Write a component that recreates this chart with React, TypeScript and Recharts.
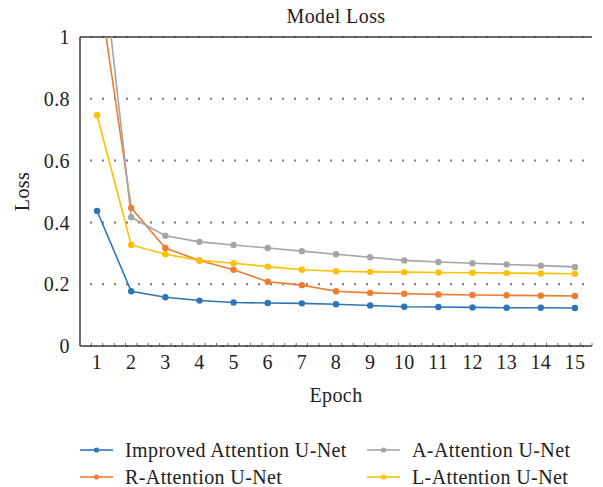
import React from 'react';
import { LineChart, Line, XAxis, YAxis, CartesianGrid, Legend, ReferenceLine } from 'recharts';

const FONT = '"Liberation Serif", "Times New Roman", serif';
const FS = 20;
const LS = 0.4;

// ---- data ----
const epochs = [1, 2, 3, 4, 5, 6, 7, 8, 9, 10, 11, 12, 13, 14, 15];
const epochLabels = ['1', '2', '3', '4', '5', '6', '7', '8', '9', '10', '11', '12', '13', '14', '15'];
const improvedAttention = [0.437, 0.177, 0.158, 0.147, 0.141, 0.139, 0.138, 0.135, 0.131, 0.127, 0.126, 0.125, 0.124, 0.124, 0.123];
const rAttention = [1.2, 0.447, 0.317, 0.277, 0.247, 0.208, 0.197, 0.177, 0.172, 0.169, 0.167, 0.165, 0.164, 0.163, 0.162];
const aAttention = [1.41, 0.417, 0.357, 0.337, 0.327, 0.317, 0.307, 0.297, 0.287, 0.277, 0.272, 0.268, 0.264, 0.26, 0.256];
const lAttention = [0.747, 0.327, 0.297, 0.277, 0.268, 0.257, 0.247, 0.242, 0.24, 0.239, 0.238, 0.237, 0.236, 0.235, 0.234];
const yTicks = [0, 0.2, 0.4, 0.6, 0.8, 1];
const yTickLabels = ['0', '0.2', '0.4', '0.6', '0.8', '1'];
const title = 'Model Loss';
const xTitle = 'Epoch';
const yTitle = 'Loss';

const series = [
  { key: 'improved', name: 'Improved Attention U-Net', color: '#2E75B6', values: improvedAttention },
  { key: 'r', name: 'R-Attention U-Net', color: '#ED7D31', values: rAttention },
  { key: 'a', name: 'A-Attention U-Net', color: '#A5A5A5', values: aAttention },
  { key: 'l', name: 'L-Attention U-Net', color: '#FFC000', values: lAttention },
];
const legendOrder = ['improved', 'a', 'r', 'l'];

// minor tick positions (decoration only)
const minorTicks: number[] = [];
for (let k = 0; k <= 45; k++) minorTicks.push(0.5 + k / 3);
const allBottomTicks = [...epochs, ...minorTicks.filter((t) => Math.abs(t - Math.round(t)) > 1e-6)].sort((a, b) => a - b);

const data = epochs.map((e, i) => {
  const row: Record<string, number> = { epoch: e };
  series.forEach((s) => {
    row[s.key] = s.values[i];
  });
  return row;
});

const AXIS = '#3a3a3a';
const TEXT = '#222';

const BottomTick = (props: any) => {
  const { x, y, payload } = props;
  const v = payload.value as number;
  const idx = epochs.indexOf(v);
  if (idx >= 0) {
    return (
      <text x={x} y={y} dy="0.71em" textAnchor="middle" fill={TEXT} fontSize={FS} fontFamily={FONT} letterSpacing={LS}>
        {epochLabels[idx]}
      </text>
    );
  }
  return <line x1={x} x2={x} y1={y - 9} y2={y - 12} stroke="#666" strokeWidth={1} />;
};

const TopTick = (props: any) => {
  const { x, y } = props;
  return <line x1={x} x2={x} y1={y} y2={y + 3} stroke="#666" strokeWidth={1} />;
};

const LegendContent = () => {
  const cols = [80, 367];
  const rows = [44, 71];
  return (
    <svg width={603} height={81} style={{ display: 'block' }}>
      {legendOrder.map((k, i) => {
        const s = series.find((ss) => ss.key === k)!;
        const cx = cols[i % 2];
        const cy = rows[Math.floor(i / 2)];
        return (
          <g key={k}>
            <line x1={cx} x2={cx + 33} y1={cy} y2={cy} stroke={s.color} strokeWidth={2} opacity={0.8} />
            <circle cx={cx + 16.5} cy={cy} r={2.6} fill={s.color} />
            <text x={cx + 45} y={cy} dy="0.35em" fill={TEXT} fontSize={FS} fontFamily={FONT} letterSpacing={LS}>
              {s.name}
            </text>
          </g>
        );
      })}
    </svg>
  );
};

export default function App() {
  return (
    <div style={{ position: 'absolute', left: 0, top: 0, width: 603, height: 487, background: '#fff' }}>
      <LineChart width={603} height={487} data={data} margin={{ top: 37, right: 11, left: 0, bottom: 0 }}>
        <CartesianGrid vertical={false} stroke="#777" strokeWidth={2} strokeDasharray="2 10" strokeDashoffset={2} />
        <XAxis
          xAxisId="top"
          orientation="top"
          type="number"
          domain={[0.5, 15.5]}
          ticks={minorTicks}
          allowDataOverflow
          height={0}
          tickSize={0}
          tickMargin={0}
          tick={<TopTick />}
          tickLine={false}
          axisLine={{ stroke: AXIS, strokeWidth: 1.5 }}
        />
        <XAxis
          dataKey="epoch"
          type="number"
          domain={[0.5, 15.5]}
          ticks={allBottomTicks}
          interval={0}
          allowDataOverflow
          height={60}
          tickSize={0}
          tickMargin={9}
          tickLine={false}
          tick={<BottomTick />}
          axisLine={{ stroke: AXIS, strokeWidth: 1.5 }}
          label={{ value: xTitle, position: 'insideBottom', offset: 4, fill: TEXT, fontSize: FS, fontFamily: FONT, letterSpacing: LS }}
        />
        <YAxis
          type="number"
          domain={[0, 1]}
          ticks={yTicks}
          interval={0}
          allowDataOverflow
          width={80}
          tickSize={0}
          tickMargin={10}
          tickLine={false}
          tickFormatter={(v: number) => yTickLabels[yTicks.indexOf(v)] ?? String(v)}
          tick={{ fill: TEXT, fontSize: FS, fontFamily: FONT, letterSpacing: LS }}
          axisLine={{ stroke: AXIS, strokeWidth: 1.5 }}
          label={{ value: yTitle, angle: -90, position: 'insideLeft', offset: 22, fill: TEXT, fontSize: FS, fontFamily: FONT, letterSpacing: LS, style: { textAnchor: 'middle' } }}
        />
        <YAxis
          yAxisId="right"
          orientation="right"
          type="number"
          domain={[0, 1]}
          width={0}
          tick={false}
          tickLine={false}
          axisLine={{ stroke: AXIS, strokeWidth: 1.5 }}
        />
        <ReferenceLine
          y={1}
          stroke={AXIS}
          strokeWidth={1.5}
          label={{ value: title, position: 'top', offset: 14, fill: TEXT, fontSize: FS, fontFamily: FONT, letterSpacing: LS }}
        />
        <Legend verticalAlign="bottom" height={81} content={() => <LegendContent />} wrapperStyle={{ left: 0, width: 603 }} />
        {series.map((s) => (
          <Line
            key={s.key}
            dataKey={s.key}
            name={s.name}
            stroke={s.color}
            strokeWidth={1.6}
            dot={{ r: 3.2, fill: s.color, stroke: s.color, strokeWidth: 0 }}
            activeDot={false}
            isAnimationActive={false}
          />
        ))}
      </LineChart>
    </div>
  );
}
